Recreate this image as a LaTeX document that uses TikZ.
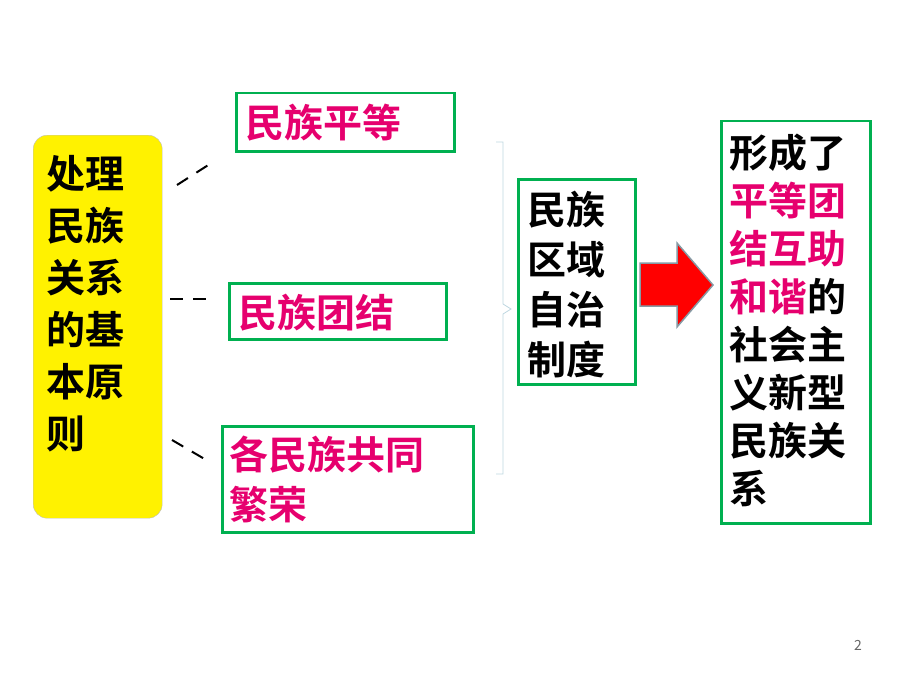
\documentclass[tikz,border=0pt]{standalone}
\usepackage{fontspec}
\setmainfont{Noto Sans CJK SC}[BoldFont={Noto Sans CJK SC Bold}]
\usetikzlibrary{positioning}
\definecolor{boxgreen}{RGB}{0,176,80}
\definecolor{hotpink}{RGB}{230,0,110}
\definecolor{brgray}{RGB}{190,215,225}
\begin{document}
\begin{tikzpicture}[x=1pt,y=-1pt,
    box/.style={draw=boxgreen, line width=2.5pt, inner sep=0pt, align=left},
    big/.style={font=\fontsize{39}{50}\selectfont\bfseries},
    dashline/.style={line width=2pt, dash pattern=on 13pt off 10pt}]
    \useasboundingbox (0,0) rectangle (920,690);

    % left principle
    \node[draw=black!25, fill=yellow, rounded corners=14pt, minimum width=129pt,
          minimum height=383pt, anchor=north west, inner sep=0pt] (main) at (33,135) {};
    \node[big, align=left, anchor=north west, font=\fontsize{39}{52}\selectfont\bfseries] (mtxt) at (43,152)
        {处理\\民族\\关系\\的基\\本原\\则};

    % three principles
    \node[box, minimum width=218pt, minimum height=58pt, anchor=north west] (eq) at (235,92) {};
    \node[big, text=hotpink, anchor=west] (eqt) at (242,123) {民族平等};
    \node[box, minimum width=217pt, minimum height=56pt, anchor=north west] (un) at (228,282) {};
    \node[big, text=hotpink, anchor=west] (unt) at (235,313) {民族团结};
    \node[box, minimum width=251pt, minimum height=106pt, anchor=north west] (pr) at (221,425) {};
    \node[big, text=hotpink, align=left, anchor=north west] (prt) at (226,432) {各民族共同\\繁荣};

    \coordinate (d1a) at (177,185); \coordinate (d1b) at (213,162);
    \coordinate (d2a) at (170,299); \coordinate (d2b) at (212,299);
    \coordinate (d3a) at (172,440); \coordinate (d3b) at (208,461);
    \draw[dashline] (d1a) -- (d1b);
    \draw[dashline] (d2a) -- (d2b);
    \draw[dashline] (d3a) -- (d3b);

    % brace
    \coordinate (brt) at (496,142); \coordinate (brb) at (496,474);
    \draw[brgray, line width=0.8pt] (brt) -- ++(7,0) -- (503,304) -- (511,309) -- (503,314) -- (503,474) -- (brb);

    % system
    \node[box, minimum width=117pt, minimum height=205pt, anchor=north west] (sys) at (517,178) {};
    \node[big, align=left, anchor=north west] (syst) at (524,188) {民族\\区域\\自治\\制度};

    % arrow
    \draw[fill=red, draw=gray!80!cyan, line width=1.5pt, line join=miter]
        (640,263) -- (677,263) -- (677,243) -- (713,285) -- (677,327) -- (677,306) -- (640,306) -- cycle;

    % result
    \node[box, minimum width=149pt, minimum height=402pt, anchor=north west] (res) at (720,120) {};
    \node[big, align=left, anchor=north west, font=\fontsize{39}{48}\selectfont\bfseries] (rest) at (726,130)
        {形成了\\\textcolor{hotpink}{平等团}\\\textcolor{hotpink}{结互助}\\\textcolor{hotpink}{和谐}的\\社会主\\义新型\\民族关\\系};

    \node[text=black!60, font=\fontsize{14}{16}\selectfont] (pg) at (858,645) {2};
\end{tikzpicture}
\end{document}
